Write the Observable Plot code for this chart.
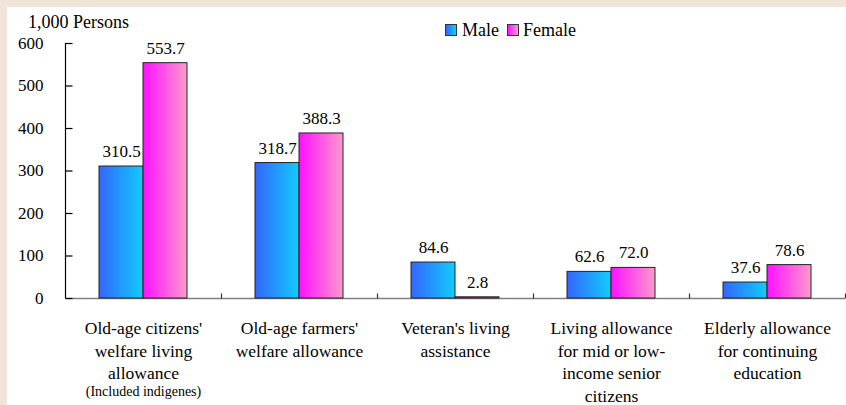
<!DOCTYPE html>
<html>
<head>
<meta charset="utf-8">
<script src="https://cdn.jsdelivr.net/npm/d3@7"></script>
<script src="https://cdn.jsdelivr.net/npm/@observablehq/plot@0.6"></script>
<style>
  body { margin: 0; background: #F1E5D9; width: 846px; height: 405px; overflow: hidden; position: relative; font-family: "Liberation Serif", "Times New Roman", serif; }
  #wrap { position: absolute; left: 7px; top: 7px; width: 839px; height: 398px; background: #fff; }
  .ov { position: absolute; font-size: 18px; line-height: 18px; color: #000; white-space: nowrap; }
  .sw { position: absolute; width: 10px; height: 10px; border: 1px solid #333; }
</style>
</head>
<body>
<div id="wrap"></div>
<div class="ov" style="left:28px;top:13px;">1,000 Persons</div>
<div class="sw" style="left:445px;top:24px;background:linear-gradient(to right,#3366FF,#11CCFF);"></div>
<div class="ov" style="left:462px;top:21px;">Male</div>
<div class="sw" style="left:507px;top:24px;background:linear-gradient(to right,#FF11FF,#FF99CC);"></div>
<div class="ov" style="left:523px;top:21px;">Female</div>
<script>
const categories = [
  "Old-age citizens'\nwelfare living\nallowance",
  "Old-age farmers'\nwelfare allowance",
  "Veteran's living\nassistance",
  "Living allowance\nfor mid or low-\nincome senior\ncitizens",
  "Elderly allowance\nfor continuing\neducation"
];
const subNote = "(Included indigenes)";
const male = [310.5, 318.7, 84.6, 62.6, 37.6];
const female = [553.7, 388.3, 2.8, 72.0, 78.6];
const yTicks = [0, 100, 200, 300, 400, 500, 600];

const rows = categories.map((c, i) => ({category: c, male: male[i], female: female[i]}));

const hTick = {draw(ctx) { ctx.moveTo(0, 0); ctx.lineTo(7, 0); }};
const vTick = {draw(ctx) { ctx.moveTo(0, 0); ctx.lineTo(0, -5); }};
const serif = "Liberation Serif";

const chart = Plot.plot({
  width: 839,
  height: 398,
  marginLeft: 58,
  marginRight: 1,
  marginTop: 36,
  marginBottom: 107,
  style: {fontFamily: serif, fontSize: "17px", color: "#000", background: "transparent"},
  x: {domain: categories, paddingInner: 0.436, paddingOuter: 0.218, round: false, label: null},
  y: {domain: [0, d3.max(yTicks)], label: null},
  marks: [
    Plot.ruleY([0], {stroke: "#808080", strokeWidth: 1.5}),
    Plot.barY(rows, {x: "category", y: "male", insetRight: 44, fill: "url(#gMale)", stroke: "#222", strokeWidth: 1}),
    Plot.barY(rows, {x: "category", y: "female", insetLeft: 44, fill: "url(#gFemale)", stroke: "#222", strokeWidth: 1}),
    Plot.ruleX([categories[0]], {x: d => d, dx: -78, y1: 0, y2: d3.max(yTicks), stroke: "#000", strokeWidth: 1.2}),
    Plot.dot(yTicks, {y: d => d, frameAnchor: "left", symbol: hTick, stroke: "#000", fill: "none", strokeWidth: 1.2}),
    Plot.dot(categories, {x: d => d, frameAnchor: "bottom", dx: 78, symbol: vTick, stroke: "#333", fill: "none", strokeWidth: 1.2}),
    Plot.text(rows, {x: "category", y: "male", text: d => d.male.toFixed(1), dx: -22, dy: -15, fontSize: 17, fontFamily: serif}),
    Plot.text(rows, {x: "category", y: "female", text: d => d.female.toFixed(1), dx: 22, dy: -15, fontSize: 17, fontFamily: serif}),
    Plot.axisY({ticks: yTicks, tickSize: 0, tickPadding: 22, fontSize: 17, fontFamily: serif, label: null}),
    Plot.axisX({tickSize: 0, tickPadding: 20, lineHeight: 1.28, fontSize: 17.5, fontFamily: serif, label: null}),
    Plot.text([categories[0]], {x: d => d, text: () => subNote, frameAnchor: "bottom", dy: 97, fontSize: 14, fontFamily: serif})
  ]
});

const defs = d3.select(chart).insert("defs", ":first-child");
const gm = defs.append("linearGradient").attr("id", "gMale").attr("x1", "0").attr("x2", "1").attr("y1", "0").attr("y2", "0");
gm.append("stop").attr("offset", "0%").attr("stop-color", "#3366FF");
gm.append("stop").attr("offset", "100%").attr("stop-color", "#11CCFF");
const gf = defs.append("linearGradient").attr("id", "gFemale").attr("x1", "0").attr("x2", "1").attr("y1", "0").attr("y2", "0");
gf.append("stop").attr("offset", "0%").attr("stop-color", "#FF11FF");
gf.append("stop").attr("offset", "100%").attr("stop-color", "#FF99CC");

document.getElementById("wrap").appendChild(chart);
</script>
</body>
</html>
